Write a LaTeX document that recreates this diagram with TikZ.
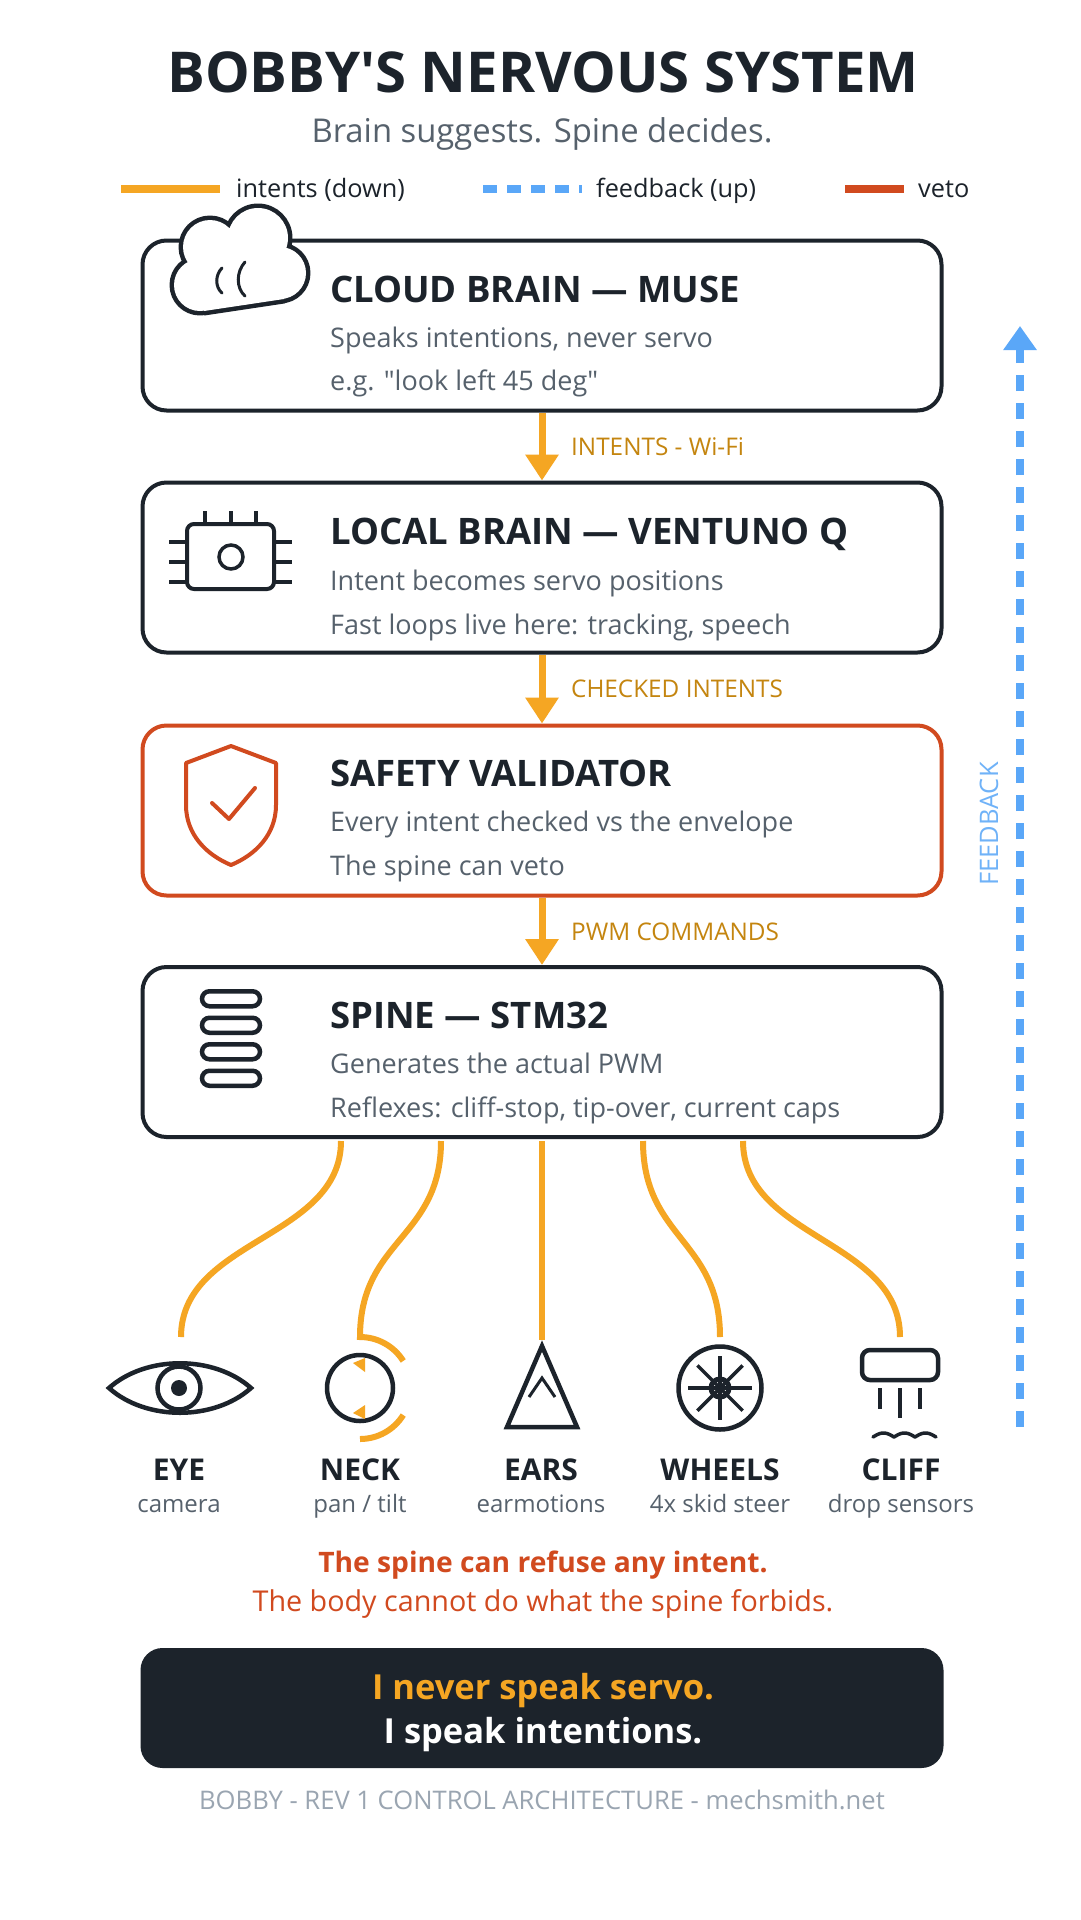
\documentclass[tikz,border=0pt]{standalone}
\usepackage{fontspec}
\setmainfont{Open Sans}[Ligatures=TeXOff]
\usetikzlibrary{arrows.meta,calc}
\definecolor{ink}{HTML}{1C232B}
\definecolor{txtgray}{HTML}{56616C}
\definecolor{orng}{HTML}{F5A623}
\definecolor{orngtxt}{HTML}{C4850F}
\definecolor{vred}{HTML}{D14A1F}
\definecolor{fblue}{HTML}{5AA7F8}
\definecolor{fbluetxt}{HTML}{6FB2F8}
\definecolor{footgray}{HTML}{9AA5B1}
\newcommand\fsz[1]{\fontsize{#1}{#1}\selectfont}
\tikzset{
  box/.style={draw=ink, line width=4pt, rounded corners=24pt, fill=white,
    minimum width=799pt, minimum height=170pt, inner sep=0pt},
  btitle/.style={anchor=base west, inner sep=0pt, text=ink, font={\fsz{36.5}\bfseries}},
  bline/.style={anchor=base west, inner sep=0pt, text=txtgray, font=\fsz{27}},
  lab/.style={anchor=base west, inner sep=0pt, text=orngtxt, font=\fsz{24.3}},
  flow/.style={draw=orng, line width=7pt, -{Triangle[width=32pt,length=26pt]}},
  wire/.style={draw=orng, line width=6pt},
  icon/.style={draw=ink, line width=4.5pt},
  ilab/.style={anchor=base, inner sep=0pt, text=ink, font={\fsz{30}\bfseries}},
  isub/.style={anchor=base, inner sep=0pt, text=txtgray, font=\fsz{24}},
  legtxt/.style={anchor=base west, inner sep=0pt, text=ink, font=\fsz{25.3}},
}
\begin{document}
\begin{tikzpicture}[x=1pt, y=-1pt]
\useasboundingbox (0,0) rectangle (1080,1920);
\fill[white] (0,0) rectangle (1080,1920);

% header
\node[anchor=base, inner sep=0pt, text=ink, font={\fsz{56.3}\bfseries}] (title) at (543,92) {BOBBY'S NERVOUS SYSTEM};
\node[anchor=base, inner sep=0pt, text=txtgray, font=\fsz{32.8}] (subtitle) at (542,142) {Brain suggests. Spine decides.};

% legend
\coordinate (la1) at (121,189); \coordinate (la2) at (220,189);
\coordinate (lb1) at (483,189); \coordinate (lb2) at (582,189);
\coordinate (lc1) at (845,189); \coordinate (lc2) at (904,189);
\draw[orng, line width=8pt] (la1) -- (la2);
\draw[fblue, line width=8pt, dash pattern=on 14pt off 10pt] (lb1) -- (lb2);
\draw[vred, line width=8pt] (lc1) -- (lc2);
\node[legtxt] (lt1) at (236,197) {intents (down)};
\node[legtxt] (lt2) at (596,197) {feedback (up)};
\node[legtxt] (lt3) at (918,197) {veto};

% boxes
\node[box] (cloud) at (542,325.5) {};
\node[box] (local) at (542,567.5) {};
\node[box, draw=vred] (safety) at (542,810.5) {};
\node[box] (spine) at (542,1052) {};

\node[btitle] (t1) at (330,302) {CLOUD BRAIN — MUSE};
\node[bline] (t1a) at (330,347) {Speaks intentions, never servo};
\node[bline] (t1b) at (330,390) {e.g. "look left 45 deg"};

\node[btitle] (t2) at (330,544) {LOCAL BRAIN — VENTUNO Q};
\node[bline] (t2a) at (330,590) {Intent becomes servo positions};
\node[bline] (t2b) at (330,634) {Fast loops live here: tracking, speech};

\node[btitle] (t3) at (330,786) {SAFETY VALIDATOR};
\node[bline] (t3a) at (330,831) {Every intent checked vs the envelope};
\node[bline] (t3b) at (330,875) {The spine can veto};

\node[btitle] (t4) at (330,1028) {SPINE — STM32};
\node[bline] (t4a) at (330,1073) {Generates the actual PWM};
\node[bline] (t4b) at (330,1117) {Reflexes: cliff-stop, tip-over, current caps};

% arrows between boxes
\draw[flow] (cloud.south) -- (local.north);
\draw[flow] (local.south) -- (safety.north);
\draw[flow] (safety.south) -- (spine.north);
\node[lab] (l1) at (571,455) {INTENTS - Wi-Fi};
\node[lab] (l2) at (571,697) {CHECKED INTENTS};
\node[lab] (l3) at (571,940) {PWM COMMANDS};

% cloud icon
\draw[ink, line width=9pt, line join=round]
  (210,247) circle[radius=27] (258,238) circle[radius=30]
  (280,273) circle[radius=26] (200,285) circle[radius=26]
  (200,285) -- (204,311) -- (284,299) -- (280,273) -- (258,238) -- (210,247) -- cycle;
\fill[white]
  (210,247) circle[radius=27] (258,238) circle[radius=30]
  (280,273) circle[radius=26] (200,285) circle[radius=26]
  (240,275) circle[radius=30];
\fill[white] (200,285) -- (204,311) -- (284,299) -- (280,273) -- (258,238) -- (210,247) -- cycle;
\draw[ink, line width=3pt, line cap=round] (222,268) .. controls (215,275) and (215,287) .. (222,293);
\draw[ink, line width=3pt, line cap=round] (245,262) .. controls (236,272) and (236,288) .. (245,296);

% chip icon
\draw[ink, line width=4pt, rounded corners=7pt] (187,524) rectangle (274,589);
\foreach \px in {205,231,256} \draw[ink, line width=4pt] (\px,511) -- (\px,524);
\foreach \py in {542,562,582} {
  \draw[ink, line width=4pt] (169,\py) -- (187,\py);
  \draw[ink, line width=4pt] (274,\py) -- (292,\py);
}
\draw[ink, line width=3.5pt] (231,557) circle[radius=12];

% shield icon
\draw[vred, line width=4pt, line join=round] (231,746) -- (276,763) -- (276,805)
  .. controls (276,835) and (255,855) .. (231,865)
  .. controls (207,855) and (186,835) .. (186,805) -- (186,763) -- cycle;
\draw[vred, line width=4pt, line cap=round, line join=round] (212,803) -- (229,819) -- (255,788);

% spine icon
\foreach \cy in {998.75,1025.25,1051.75,1078.25}
  \draw[ink, line width=4.5pt, rounded corners=7.5pt] (202,{\cy-7.5}) rectangle (260,{\cy+7.5});

% wires
\coordinate (s1) at (341,1141); \coordinate (e1) at (181,1337);
\coordinate (s2) at (441,1141); \coordinate (e2) at (360,1337);
\coordinate (s3) at (542,1141); \coordinate (e3) at (542,1340);
\coordinate (s4) at (643,1141); \coordinate (e4) at (720,1337);
\coordinate (s5) at (743,1141); \coordinate (e5) at (900,1337);
\draw[wire] (s1) .. controls ($(s1)+(0,98)$) and ($(e1)+(0,-98)$) .. (e1);
\draw[wire] (s2) .. controls ($(s2)+(0,98)$) and ($(e2)+(0,-98)$) .. (e2)
  arc[start angle=-90, end angle=-32, radius=51];
\draw[wire] (s3) -- (e3);
\draw[wire] (s4) .. controls ($(s4)+(0,98)$) and ($(e4)+(0,-98)$) .. (e4);
\draw[wire] (s5) .. controls ($(s5)+(0,98)$) and ($(e5)+(0,-98)$) .. (e5);

% eye
\draw[icon, line join=miter] (109,1388) .. controls (146,1355) and (214,1355) .. (251,1388)
  .. controls (214,1421) and (146,1421) .. (109,1388) -- cycle;
\draw[icon] (179,1388) circle[radius=21.5];
\fill[ink] (179,1388) circle[radius=8];

% neck
\draw[icon] (360,1388) circle[radius=33];
\draw[wire] (360,1439) arc[start angle=90, end angle=32, radius=51];
\fill[orng] (365,1358) -- (365,1372) -- (353,1363) -- cycle;
\fill[orng] (365,1405) -- (365,1419) -- (353,1413) -- cycle;

% ears
\draw[icon, line join=miter] (542,1346) -- (577,1427) -- (507,1427) -- cycle;
\draw[ink, line width=3pt] (529,1397) -- (542,1378) -- (555,1397);

% wheels
\draw[icon] (720,1388) circle[radius=41.5];
\foreach \a in {0,45,...,315} \draw[ink, line width=3.5pt] (720,1388) -- ++(\a:32);
\draw[ink, line width=5pt] (720,1388) circle[radius=9];

% cliff
\draw[icon, rounded corners=8pt] (862,1350) rectangle (938,1380);
\draw[ink, line width=4pt] (880,1388) -- (880,1409);
\draw[ink, line width=4pt] (900,1388) -- (900,1418);
\draw[ink, line width=4pt] (920,1388) -- (920,1409);
\draw[ink, line width=3.5pt, line cap=round, line join=round] plot[domain=0:63, samples=91] ({873+\x},{1437-4*abs(sin(\x/63*3*180))});

% icon labels
\node[ilab] (n1) at (179,1480) {EYE};
\node[isub] (n1s) at (179,1512) {camera};
\node[ilab] (n2) at (360,1480) {NECK};
\node[isub] (n2s) at (360,1512) {pan / tilt};
\node[ilab] (n3) at (541,1480) {EARS};
\node[isub] (n3s) at (541,1512) {earmotions};
\node[ilab] (n4) at (720,1480) {WHEELS};
\node[isub] (n4s) at (720,1512) {4x skid steer};
\node[ilab] (n5) at (901,1480) {CLIFF};
\node[isub] (n5s) at (901,1512) {drop sensors};

% veto text
\node[anchor=base, inner sep=0pt, text=vred, font={\fsz{28.2}\bfseries}] (v1) at (543,1572) {The spine can refuse any intent.};
\node[anchor=base, inner sep=0pt, text=vred, font=\fsz{28.7}] (v2) at (543,1611) {The body cannot do what the spine forbids.};

% motto box
\node[fill=ink, rounded corners=22pt, minimum width=803pt, minimum height=120pt, inner sep=0pt] (motto) at (542,1708) {};
\node[anchor=base, inner sep=0pt, text=orng, font={\fsz{34.5}\bfseries}] (m1) at (543,1699) {I never speak servo.};
\node[anchor=base, inner sep=0pt, text=white, font={\fsz{34.5}\bfseries}] (m2) at (543,1743) {I speak intentions.};

% footer
\node[anchor=base, inner sep=0pt, text=footgray, font=\fsz{25.6}] (foot) at (542,1809) {BOBBY - REV 1 CONTROL ARCHITECTURE - mechsmith.net};

% feedback
\coordinate (fb0) at (1020,1427); \coordinate (fb1) at (1020,326);
\draw[fblue, line width=8pt, dash pattern=on 16pt off 12pt, -{Triangle[width=32pt,length=24pt]}] (fb0) -- (fb1);
\node[rotate=90, inner sep=0pt, text=fbluetxt, font=\fsz{25.5}] (fbl) at (989,824) {FEEDBACK};
\end{tikzpicture}
\end{document}
